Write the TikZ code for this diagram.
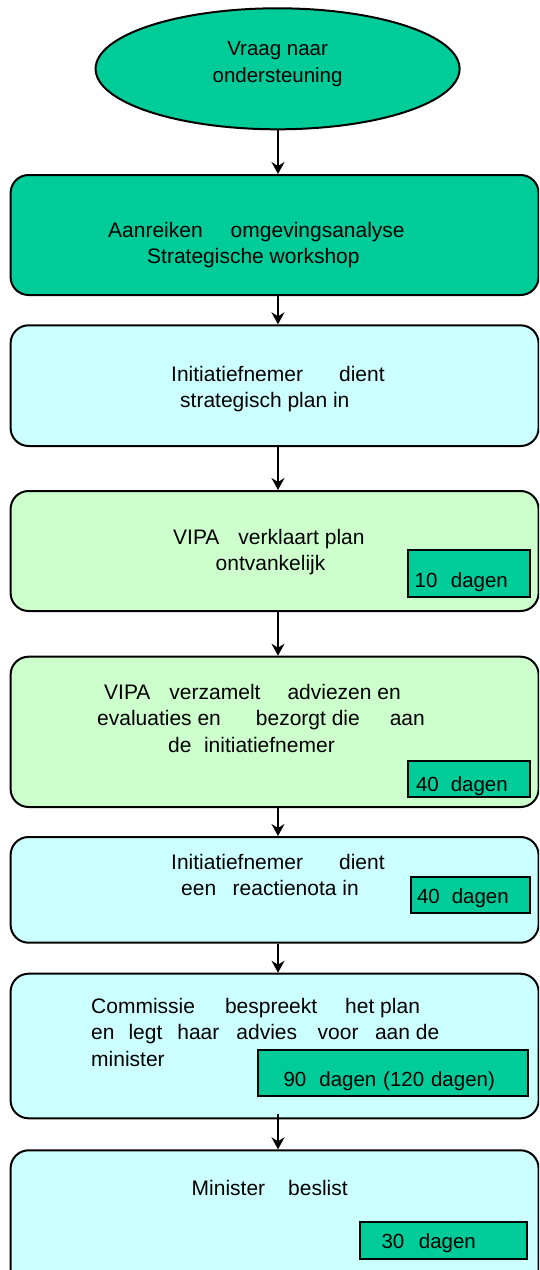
\documentclass[tikz,border=0pt]{standalone}
\usepackage{fontspec}
\setmainfont{Liberation Sans}
\usetikzlibrary{shapes.geometric,arrows.meta,calc}
\definecolor{vteal}{RGB}{0,204,153}
\definecolor{vcyan}{RGB}{204,255,255}
\definecolor{vgreen}{RGB}{204,255,204}
\begin{document}
\begin{tikzpicture}[x=1pt,y=-1pt,
  every node/.style={font=\fontsize{21}{26.5}\selectfont},
  stepbox/.style={draw=black, line width=2pt, rounded corners=18pt,
    minimum width=528pt, anchor=north west, inner sep=0pt},
  startnode/.style={ellipse, draw=black, line width=2pt, fill=vteal,
    minimum width=364pt, minimum height=121pt, inner sep=0pt, align=center,
    text depth=14pt, font=\fontsize{20.5}{26.5}\selectfont},
  txt/.style={anchor=base west, align=left, inner sep=0pt},
  daybox/.style={draw=black, line width=2pt, fill=vteal, inner sep=0pt,
    anchor=base west, align=left, font=\fontsize{20.5}{26.5}\selectfont},
  arr/.style={draw=black, line width=1.6pt,
    -{Stealth[length=12pt,width=13pt,inset=4pt]}}
]
\clip (0,0) rectangle (539,1270);
\fill[white] (0,0) rectangle (539,1270);

% start ellipse
\node[startnode] (ell) at (277.6,68.8) {Vraag naar\\ondersteuning};

% step boxes
\node[stepbox, fill=vteal,  minimum height=120pt]   (A) at (9.6,174)    {};
\node[stepbox, fill=vcyan,  minimum height=120.7pt] (B) at (9.6,324.3)  {};
\node[stepbox, fill=vgreen, minimum height=120pt]   (C) at (9.6,490)    {};
\node[stepbox, fill=vgreen, minimum height=150.3pt] (D) at (9.6,655.7)  {};
\node[stepbox, fill=vcyan,  minimum height=105.7pt] (E) at (9.6,836)    {};
\node[stepbox, fill=vcyan,  minimum height=144.6pt] (F) at (9.6,972.7)  {};
\node[stepbox, fill=vcyan,  minimum height=160pt]   (G) at (9.6,1149.3) {};

% texts (anchored at the baseline of the last line)
\node[txt] (tA) at (108,263.5) {Aanreiken\hspace{28pt}omgevingsanalyse\\\hspace*{39pt}Strategische workshop};
\node[txt] (tB) at (171,407.5) {Initiatiefnemer\hspace{36pt}dient\\\hspace*{9pt}strategisch plan in};
\node[txt] (tC) at (173,570.5) {VIPA\hspace{19pt}verklaart plan\\\hspace*{42.5pt}ontvankelijk};
\node[txt] (tD) at (97,752) {\hspace*{7pt}VIPA\hspace{19pt}verzamelt\hspace{27pt}adviezen en\\evaluaties en\hspace{35pt}bezorgt die\hspace{30pt}aan\\\hspace*{71pt}de\hspace{12.5pt}initiatiefnemer};
\node[txt] (tE) at (171,895.5) {Initiatiefnemer\hspace{36pt}dient\\\hspace*{10pt}een\hspace{16.5pt}reactienota in};
\node[txt] (tF) at (91,1066) {Commissie\hspace{30pt}bespreekt\hspace{28pt}het plan\\en\hspace{14pt}legt\hspace{15pt}haar\hspace{17pt}advies\hspace{20.6pt}voor\hspace{16.5pt}aan de\\minister};
\node[txt] (tG) at (191.5,1195) {Minister\hspace{23pt}beslist};

% duration boxes
\node[daybox, text width=122pt, text height=37pt, text depth=10pt] (dC) at (407,587) {\hspace*{6.6pt}10\hspace{13.5pt}dagen};
\node[daybox, text width=122pt, text height=30.7pt, text depth=5.3pt] (dD) at (407,791.7) {\hspace*{8pt}40\hspace{12pt}dagen};
\node[daybox, text width=118.7pt, text height=26.3pt, text depth=9.7pt] (dE) at (410,903.3) {\hspace*{6pt}40\hspace{12pt}dagen};
\node[daybox, text width=270pt, text height=36.7pt, text depth=9.3pt] (dF) at (257,1086.7) {\hspace*{25.6pt}90\hspace{13pt}dagen (120 dagen)};
\node[daybox, text width=167pt, text height=26pt, text depth=11pt] (dG) at (359,1248) {\hspace*{21.5pt}30\hspace{14.6pt}dagen};

% connectors
\coordinate (ax) at (278,0);
\draw[arr] (ell.south -| ax) -- (A.north -| ax);
\draw[arr] (A.south -| ax) -- (B.north -| ax);
\draw[arr] (B.south -| ax) -- (C.north -| ax);
\draw[arr] (C.south -| ax) -- (D.north -| ax);
\draw[arr] (D.south -| ax) -- (E.north -| ax);
\draw[arr] (E.south -| ax) -- (F.north -| ax);
\draw[arr] ([yshift=5pt]F.south -| ax) -- (G.north -| ax);
\end{tikzpicture}
\end{document}
